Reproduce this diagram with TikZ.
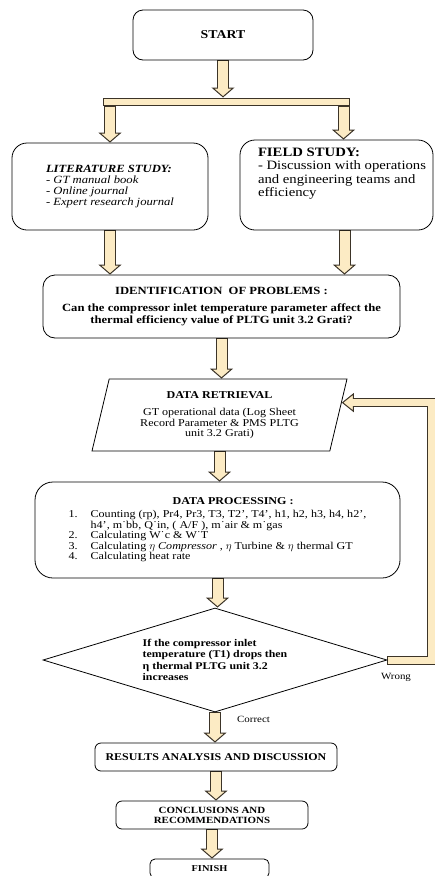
\documentclass[tikz,border=0pt]{standalone}
\usepackage{fontspec}
\setmainfont{Liberation Serif}[FakeStretch=1.15]
\usetikzlibrary{arrows.meta,positioning,shapes.geometric,calc,backgrounds}
\definecolor{cream}{RGB}{252,235,196}
\definecolor{arrline}{RGB}{60,52,40}

\begin{document}
\begin{tikzpicture}[x=1pt, y=-1pt,
  box/.style={draw, rounded corners=#1, line width=0.8pt, align=center, inner sep=3pt},
  box/.default=12pt,
  flow/.style={preaction={draw=arrline, line width=12pt, shorten >=0pt, shorten <=0pt,
      -{Triangle[length=10pt, width=23pt, line width=1pt, fill=cream]}},
    draw=cream, line width=10pt, shorten <=1pt, shorten >=8.6pt},
  backflow/.style={preaction={draw=arrline, line width=9pt, shorten >=0pt, shorten <=0pt,
      -{Triangle[length=12pt, width=19pt, line width=1pt, fill=cream]}},
    draw=cream, line width=7pt, shorten <=1pt, shorten >=10.6pt},
  splitbar/.style={preaction={draw=arrline, line width=8pt, shorten >=0pt, shorten <=0pt},
    draw=cream, line width=6pt, shorten <=1pt, shorten >=1pt},
  lbl/.style={font=\fontsize{9.5}{10}\selectfont, inner sep=1pt}
]
\useasboundingbox (0,0) rectangle (435,876);
\clip (0,0) rectangle (435,876);

\node[box=10pt, minimum width=180pt, minimum height=50pt, font=\fontsize{12}{13}\selectfont\bfseries] (start) at (223,35) {START};

\node[box=15pt, minimum width=196pt, minimum height=87pt, align=left, font=\fontsize{11}{11}\selectfont\itshape] (lit) at (110,186.5)
  {\textbf{LITERATURE STUDY:}\\- GT manual book\\- Online journal\\- Expert research journal};
\node[box=15pt, minimum width=193pt, minimum height=90pt, inner sep=2.5pt, font=\fontsize{12.8}{13.3}\selectfont] (field) at (336.5,185)
  {\hspace*{15pt}\parbox[c][82pt][t]{172pt}{\raggedright\vspace*{4pt}\textbf{FIELD STUDY:}\\- Discussion with operations\\and engineering teams and\\efficiency}};

\node[box, minimum width=357pt, minimum height=63pt, font=\fontsize{11}{12}\selectfont\bfseries] (ident) at (221.5,306.5)
  {IDENTIFICATION\ \ OF PROBLEMS :\\[5pt]Can the compressor inlet temperature parameter affect the\\thermal efficiency value of PLTG unit 3.2 Grati?};

\node[trapezium, trapezium left angle=70.9, trapezium right angle=109.1, trapezium stretches body,
  draw, line width=0.8pt, minimum width=255pt, minimum height=72pt, inner sep=1pt, align=center,
  font=\fontsize{10.5}{10.5}\selectfont] (retr) at (219.5,415)
  {\textbf{DATA RETRIEVAL}\\[7pt]GT operational data (Log Sheet\\Record Parameter \& PMS PLTG\\unit 3.2 Grati)};

\node[box=18pt, minimum width=365pt, minimum height=96pt, align=left, font=\fontsize{10.5}{10.6}\selectfont] (proc) at (217.5,530)
  {\hspace*{104pt}\textbf{DATA PROCESSING :}\\[2pt]
   \makebox[22pt][l]{1.}Counting (rp), Pr4, Pr3, T3, T2’, T4’, h1, h2, h3, h4, h2’,\\
   \hspace*{22pt}h4’, m˙bb, Q˙in, ( A/F ), m˙air \& m˙gas\\
   \makebox[22pt][l]{2.}Calculating W˙c \& W˙T\\
   \makebox[22pt][l]{3.}Calculating $\eta$ \textit{Compressor} , $\eta$ Turbine \& $\eta$ thermal GT\\
   \makebox[22pt][l]{4.}Calculating heat rate};

\node[diamond, aspect=3.3, draw, line width=0.8pt, minimum width=344pt, minimum height=104pt, inner sep=1pt,
  align=left, font=\fontsize{10.3}{11.5}\selectfont\bfseries] (dec) at (215,660)
  {If the compressor inlet\\temperature (T1) drops then\\η thermal PLTG unit 3.2\\increases};

\node[box=6pt, minimum width=242pt, minimum height=28pt, font=\fontsize{10.4}{11}\selectfont\bfseries] (res) at (216,757)
  {RESULTS ANALYSIS AND DISCUSSION};
\node[box=6pt, minimum width=192pt, minimum height=28pt, font=\fontsize{9.5}{10}\selectfont\bfseries] (conc) at (212,815)
  {CONCLUSIONS AND\\RECOMMENDATIONS};
\node[box=5pt, minimum width=119pt, minimum height=19pt, font=\fontsize{9}{10}\selectfont\bfseries] (fin) at (209.5,868.5) {FINISH};

\node[lbl] (wrong) at (396,677) {Wrong};
\node[lbl, anchor=west] (correct) at (236,719) {Correct};

\coordinate (splitL) at (103,101.5);
\coordinate (splitR) at (350,101.5);
\coordinate (fieldIn) at ([xshift=7pt]field.north);
\coordinate (fieldOut) at ([xshift=8pt]field.south);
\coordinate (loopX) at (431,0);
\coordinate (retIn) at ($(retr.top right corner)!0.33!(retr.bottom right corner)$);

\begin{scope}[on background layer]
% split to both studies
\draw[flow] (start.south) -- ($(start.south |- splitL)+(0,-4)$);
\draw[flow] ($(lit.north |- splitL)+(0,4)$) -- (lit.north);
\draw[flow] ($(fieldIn |- splitL)+(0,4)$) -- (fieldIn);
\draw[splitbar] (splitL) -- (splitR);
% main flow
\draw[flow] (lit.south) -- (lit.south |- ident.north);
\draw[flow] (fieldOut) -- (fieldOut |- ident.north);
\draw[flow] (ident.south) -- (ident.south |- retr.north);
\draw[flow] (retr.south) -- (retr.south |- proc.north);
\draw[flow] (proc.south) -- (proc.south |- dec.north);
\draw[flow] (dec.south) -- (dec.south |- res.north);
\draw[flow] (res.south) -- (res.south |- conc.north);
\draw[flow] (conc.south) -- (conc.south |- fin.north);
% wrong: back to data retrieval
\draw[backflow] (dec.east) -| (loopX |- retIn) -- (retIn);
\end{scope}
\end{tikzpicture}
\end{document}
